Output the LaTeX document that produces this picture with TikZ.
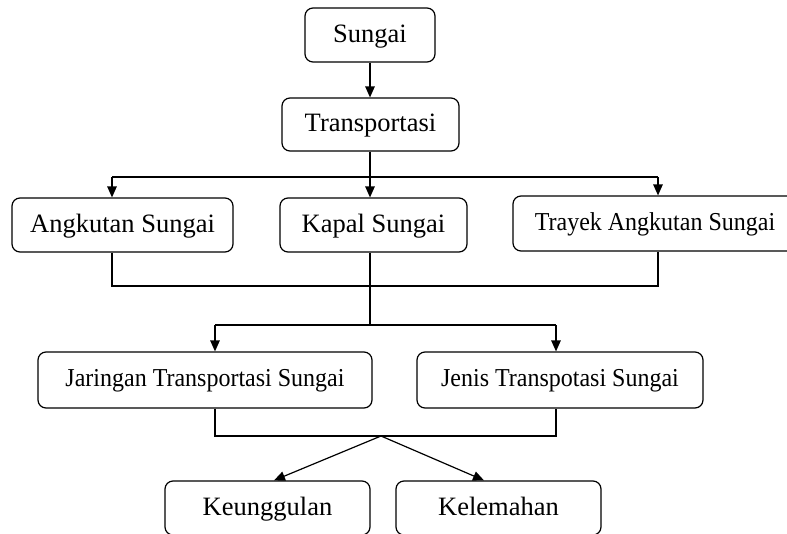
\documentclass[tikz,border=0pt]{standalone}
\usepackage{fontspec}
\setmainfont{Liberation Serif}
\newfontfamily\narrowserif[FakeStretch=0.93]{Liberation Serif}
\usetikzlibrary{arrows.meta}
\begin{document}
\begin{tikzpicture}[x=1pt,y=-1pt,
  box/.style={draw, line width=1.2pt, rounded corners=8pt, inner sep=0pt,
    font=\fontsize{26.5}{30}\selectfont, text height=20pt, text depth=6pt},
  smallbox/.style={box, font=\narrowserif\fontsize{25.8}{29}\selectfont, text height=19pt, text depth=6pt},
  link/.style={line width=1.2pt},
  arr/.style={line width=1.2pt, -{Triangle[length=11pt,width=9.5pt]}}]
\clip (0,0) rectangle (787,533);
\useasboundingbox (0,0) rectangle (787,533);
\node[box, minimum width=130pt, minimum height=54pt] (sungai) at (370,35) {Sungai};
\node[box, minimum width=177pt, minimum height=53pt] (trans) at (370.5,124.5) {Transportasi};
\node[box, minimum width=221pt, minimum height=54pt] (angk) at (122.5,225) {Angkutan Sungai};
\node[box, minimum width=187pt, minimum height=54pt] (kapal) at (373.5,225) {Kapal Sungai};
\node[smallbox, minimum width=284pt, minimum height=55pt] (trayek) at (655,223.5) {Trayek Angkutan Sungai};
\node[smallbox, minimum width=334pt, minimum height=56pt] (jar) at (205,380) {Jaringan Transportasi Sungai};
\node[smallbox, minimum width=286pt, minimum height=56pt] (jenis) at (560,380) {Jenis Transpotasi Sungai};
\node[box, minimum width=205pt, minimum height=54pt] (keung) at (267.5,508) {Keunggulan};
\node[box, minimum width=205pt, minimum height=54pt] (kelem) at (498.5,508) {Kelemahan};
% bus coordinates
\coordinate (b1l) at (112,177);
\coordinate (b1m) at (370,177);
\coordinate (b1r) at (658,177);
\coordinate (b2l) at (112,286);
\coordinate (b2r) at (658,286);
\coordinate (b3m) at (370,325);
\coordinate (b3l) at (215,325);
\coordinate (b3r) at (556,325);
\coordinate (b4l) at (215,436);
\coordinate (b4r) at (556,436);
\coordinate (b4m) at (381,436);
% connectors
\draw[arr] (sungai.south -| b1m) -- (trans.north -| b1m);
\draw[link] (trans.south -| b1m) -- (b1m);
\draw[link] (b1l) -- (b1r);
\draw[arr] (b1l) -- (angk.north -| b1l);
\draw[arr] (b1m) -- (kapal.north -| b1m);
\draw[arr] (b1r) -- (trayek.north -| b1r);
\draw[link] (angk.south -| b2l) -- (b2l) -- (b2r) -- (trayek.south -| b2r);
\draw[link] (kapal.south -| b3m) -- (b3m);
\draw[link] (b3l) -- (b3r);
\draw[arr] (b3l) -- (jar.north -| b3l);
\draw[arr] (b3r) -- (jenis.north -| b3r);
\draw[link] (jar.south -| b4l) -- (b4l) -- (b4r) -- (jenis.south -| b4r);
\draw[arr] (b4m) -- ([xshift=6.5pt]keung.north);
\draw[arr] (b4m) -- ([xshift=-14.5pt]kelem.north);
\end{tikzpicture}
\end{document}
